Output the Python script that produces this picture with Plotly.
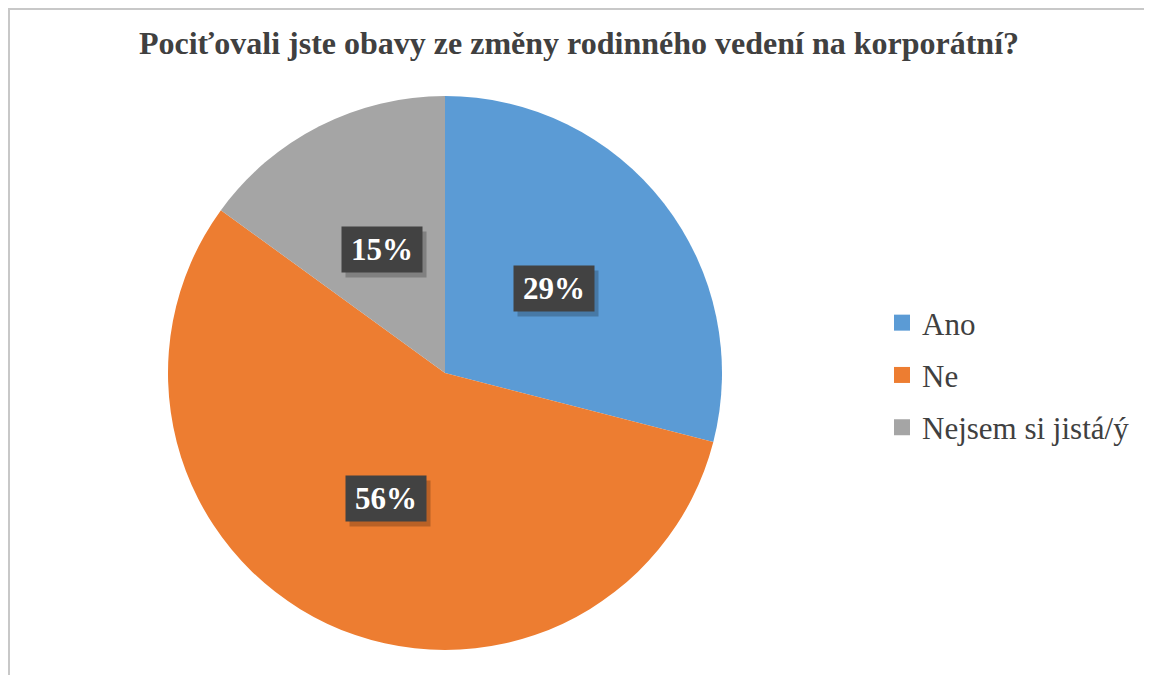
import math
import plotly.graph_objects as go

# --- data -------------------------------------------------------------
categories = ["Ano", "Ne", "Nejsem si jistá/ý"]
shares = [29, 56, 15]
colors = ["#5B9BD5", "#ED7D31", "#A5A5A5"]
title_text = "Pociťovali jste obavy ze změny rodinného vedení na korporátní?"

# --- geometry (figure pixels) -----------------------------------------
W, H = 1152, 675
CX, CY, R = 437, 365, 277
FONT = "'Times New Roman', 'Liberation Serif', serif"

fig = go.Figure()

fig.add_trace(go.Pie(
    labels=categories,
    values=shares,
    marker=dict(colors=colors, line=dict(width=0)),
    sort=False,
    direction="clockwise",
    rotation=0,
    textinfo="none",
    hoverinfo="label+percent",
    showlegend=False,
    domain=dict(x=[(CX - R) / W, (CX + R) / W], y=[1 - (CY + R) / H, 1 - (CY - R) / H]),
))

# legend via dummy traces so the row spacing can be set
for i, (cat, col) in enumerate(zip(categories, colors)):
    fig.add_trace(go.Scatter(
        x=[None], y=[None], mode="markers", name=cat,
        legendgroup=f"g{i}",
        marker=dict(symbol="square", size=16, color=col),
    ))

# data labels: dark boxes at half radius along each slice's mid-angle
total = sum(shares)
cum = 0
for val in shares:
    mid = (cum + val / 2) / total * 2 * math.pi
    cum += val
    px = CX + 0.5 * R * math.sin(mid)
    py = CY - 0.5 * R * math.cos(mid)
    pct = f"{round(val / total * 100)}%"
    for shadow in (True, False):
        fig.add_annotation(
            x=px / W, y=1 - py / H, xref="paper", yref="paper",
            xanchor="center", yanchor="middle",
            text=pct if not shadow else "",
            showarrow=False,
            width=80, height=45, borderpad=0,
            bgcolor="rgba(0,0,0,0.22)" if shadow else "#424242",
            xshift=4 if shadow else 0, yshift=-5 if shadow else 0,
            font=dict(family=FONT, size=31, color="white", weight="bold"),
        )

# chart frame
fig.add_shape(type="rect", xref="paper", yref="paper",
              x0=1 / W, x1=1 - 1 / W, y0=1 / H, y1=1 - 1 / H,
              line=dict(color="#C8C8C8", width=2))

fig.update_layout(
    width=W, height=H,
    margin=dict(l=0, r=0, t=0, b=0),
    paper_bgcolor="white",
    plot_bgcolor="white",
    xaxis=dict(visible=False),
    yaxis=dict(visible=False),
    title=dict(
        text=title_text, x=571 / W, xanchor="center",
        y=1 - 35 / H, yanchor="middle", yref="container",
        font=dict(family=FONT, size=32, color="#404040", weight="bold"),
    ),
    legend=dict(
        x=874 / W, xanchor="left", y=1 - 367 / H, yanchor="middle",
        font=dict(family=FONT, size=31, color="#404040"),
        tracegroupgap=9, itemwidth=30,
        bgcolor="rgba(0,0,0,0)",
    ),
)

fig.write_html("out.html")
